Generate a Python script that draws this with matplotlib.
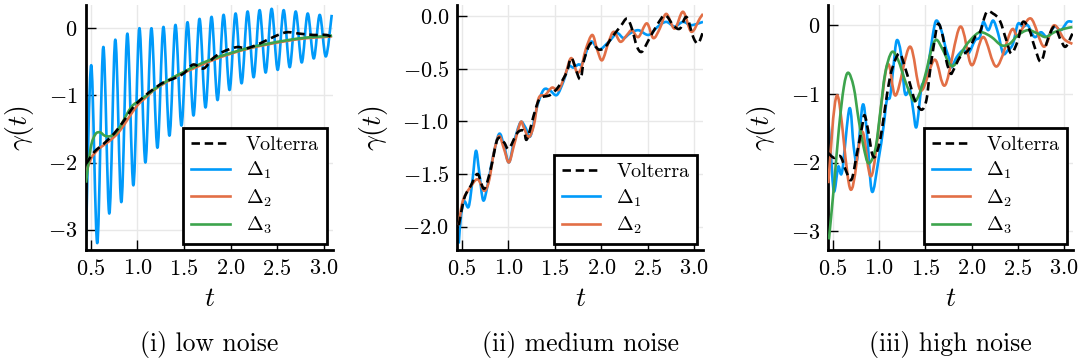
import numpy as np
import matplotlib
matplotlib.use("Agg")
import matplotlib.pyplot as plt
from matplotlib.path import Path
from matplotlib.patches import PathPatch
from matplotlib.lines import Line2D

# ============================================
# DATOS
# ============================================

# --- (i) low noise ---
t_v1 = [0.45, 0.54, 0.64, 0.75, 0.86, 0.96, 1.07, 1.18, 1.29, 1.39, 1.5, 1.6,
        1.71, 1.81, 1.92, 2.07, 2.17, 2.31, 2.46, 2.6, 2.74, 2.89, 3.03, 3.09]
y_v1 = [-2.02, -1.84, -1.72, -1.57, -1.37, -1.17, -1.02, -0.9, -0.8, -0.75, -0.67, -0.54,
        -0.6, -0.45, -0.35, -0.28, -0.3, -0.23, -0.13, -0.06, -0.08, -0.1, -0.1, -0.14]

t_d1_1 = [0.45, 0.506, 0.571, 0.635, 0.700, 0.764, 0.829, 0.893, 0.958, 1.022, 1.087,
          1.151, 1.216, 1.280, 1.345, 1.409, 1.474, 1.538, 1.603, 1.667, 1.732, 1.796,
          1.861, 1.925, 1.990, 2.054, 2.119, 2.183, 2.248, 2.312, 2.377, 2.441, 2.506,
          2.570, 2.635, 2.699, 2.764, 2.828, 2.893, 2.957, 3.022, 3.086]
y_d1_1 = [-3.1, -0.55, -3.2, -0.28, -2.76, -0.17, -2.59, -0.08, -2.34, 0.0, -2.0,
          0.0, -1.78, 0.02, -1.6, 0.05, -1.45, 0.09, -1.3, 0.14, -1.18, 0.17,
          -1.07, 0.2, -0.92, 0.22, -0.82, 0.25, -0.73, 0.27, -0.66, 0.29, -0.62,
          0.27, -0.58, 0.25, -0.51, 0.22, -0.45, 0.2, -0.42, 0.2]

t_d2_1 = [0.45, 0.5, 0.55, 0.6, 0.7, 0.8, 0.9, 1.0, 1.1, 1.2, 1.4, 1.6, 1.8, 2.0,
          2.2, 2.4, 2.6, 2.8, 3.0, 3.09]
y_d2_1 = [-2.15, -1.95, -1.85, -1.78, -1.68, -1.55, -1.35, -1.15, -1.02, -0.9, -0.73,
          -0.6, -0.48, -0.38, -0.3, -0.24, -0.19, -0.15, -0.13, -0.12]

t_d3_1 = [0.45, 0.5, 0.55, 0.6, 0.65, 0.7, 0.75, 0.8, 0.85, 0.9, 0.95, 1.0, 1.1, 1.2,
          1.3, 1.4, 1.5, 1.6, 1.8, 2.0, 2.2, 2.4, 2.6, 2.8, 3.0, 3.09]
y_d3_1 = [-2.3, -1.78, -1.58, -1.55, -1.6, -1.61, -1.58, -1.5, -1.38, -1.25, -1.15,
          -1.1, -1.0, -0.89, -0.8, -0.72, -0.65, -0.58, -0.46, -0.37, -0.29, -0.23,
          -0.18, -0.14, -0.12, -0.11]

# --- (ii) medium noise ---
t_v2 = [0.465, 0.525, 0.596, 0.668, 0.739, 0.81, 0.882, 0.952, 1.005, 1.095, 1.166,
        1.2, 1.29, 1.344, 1.45, 1.54, 1.63, 1.68, 1.77, 1.814, 1.886, 1.975, 2.046,
        2.117, 2.206, 2.277, 2.33, 2.384, 2.437, 2.509, 2.598, 2.687, 2.776, 2.847,
        2.918, 2.99, 3.043, 3.096]
y_v2 = [-1.985, -1.73, -1.61, -1.5, -1.64, -1.45, -1.17, -1.2, -1.26, -1.11, -1.09,
        -1.17, -0.89, -0.78, -0.75, -0.67, -0.53, -0.4, -0.6, -0.42, -0.26, -0.32, -0.29,
        -0.2, -0.1, -0.025, -0.12, -0.29, -0.34, -0.23, -0.09, 0.007, -0.09, -0.12,
        -0.01, -0.2, -0.26, -0.15]

t_d1_2 = [0.465, 0.49, 0.525, 0.572, 0.614, 0.65, 0.685, 0.728, 0.775, 0.828, 0.899,
          0.952, 1.005, 1.059, 1.13, 1.184, 1.237, 1.309, 1.38, 1.45, 1.522, 1.593,
          1.646, 1.7, 1.753, 1.796, 1.886, 1.975, 2.08, 2.17, 2.24, 2.31, 2.4, 2.51,
          2.61, 2.7, 2.79, 2.88, 2.97, 3.096]
y_d1_2 = [-2.16, -1.89, -1.76, -1.81, -1.55, -1.28, -1.48, -1.75, -1.61, -1.36, -1.12,
          -1.23, -1.39, -1.2, -1.01, -1.06, -1.14, -0.86, -0.7, -0.71, -0.75, -0.62,
          -0.48, -0.49, -0.46, -0.45, -0.245, -0.32, -0.245, -0.165, -0.21, -0.165,
          -0.135, -0.18, -0.1, -0.056, -0.1, -0.056, -0.087, -0.056]

t_d2_2 = [0.465, 0.507, 0.578, 0.668, 0.739, 0.792, 0.845, 0.899, 0.952, 1.005, 1.059,
          1.13, 1.166, 1.219, 1.273, 1.326, 1.397, 1.469, 1.54, 1.611, 1.675, 1.736,
          1.782, 1.832, 1.903, 1.956, 2.01, 2.08, 2.135, 2.206, 2.277, 2.33, 2.4, 2.49,
          2.56, 2.63, 2.7, 2.79, 2.88, 2.97, 3.06, 3.096]
y_d2_2 = [-1.985, -1.76, -1.64, -1.55, -1.66, -1.56, -1.29, -1.14, -1.26, -1.39, -1.23,
          -1.01, -1.06, -1.15, -1.04, -0.78, -0.75, -0.68, -0.7, -0.56, -0.4, -0.53,
          -0.5, -0.32, -0.18, -0.32, -0.42, -0.245, -0.15, -0.245, -0.18, -0.135, -0.2,
          -0.07, -0.21, -0.12, 0.02, -0.12, 0.04, -0.15, -0.025, 0.02]

# --- (iii) high noise ---
t_v3 = [0.45, 0.511, 0.582, 0.636, 0.7, 0.761, 0.815, 0.843, 0.886, 0.922, 0.958,
        1.011, 1.065, 1.118, 1.172, 1.225, 1.279, 1.333, 1.386, 1.458, 1.511, 1.547,
        1.583, 1.636, 1.69, 1.726, 1.772, 1.804, 1.876, 1.965, 2.037, 2.09, 2.161,
        2.233, 2.305, 2.376, 2.43, 2.5, 2.554, 2.626, 2.68, 2.75, 2.82, 2.894, 2.965,
        3.018, 3.09]
y_v3 = [-1.86, -1.93, -1.91, -2.1, -2.25, -1.86, -1.48, -1.31, -1.57, -1.86, -1.91,
        -1.67, -1.19, -0.75, -0.51, -0.41, -0.61, -0.85, -1.09, -1.23, -1.09, -0.7,
        -0.36, 0.02, -0.17, -0.51, -0.7, -0.65, -0.46, -0.36, -0.17, -0.1, 0.19,
        0.17, 0.07, -0.22, -0.41, -0.22, 0.05, -0.07, -0.31, -0.53, -0.22, -0.02,
        -0.22, -0.31, -0.12]

t_d1_3 = [0.45, 0.475, 0.511, 0.558, 0.6, 0.679, 0.725, 0.761, 0.822, 0.868, 0.922,
          0.993, 1.047, 1.083, 1.118, 1.154, 1.19, 1.236, 1.279, 1.333, 1.368, 1.404,
          1.458, 1.494, 1.529, 1.583, 1.619, 1.672, 1.726, 1.772, 1.786, 1.84, 1.911,
          1.965, 2.037, 2.09, 2.126, 2.18, 2.233, 2.287, 2.34, 2.394, 2.447, 2.5,
          2.554, 2.608, 2.68, 2.75, 2.82, 2.894, 2.965, 3.036, 3.09]
y_d1_3 = [-1.38, -1.81, -2.42, -2.06, -2.13, -1.21, -1.77, -1.96, -1.16, -1.57, -2.42,
          -1.96, -1.48, -1.09, -1.04, -0.61, -0.22, -0.41, -0.99, -0.94, -1.23, -1.48,
          -0.9, -0.85, -0.61, -0.12, 0.07, -0.07, -0.36, -0.53, -0.61, -0.46, -0.36,
          -0.41, -0.22, -0.17, 0.05, -0.07, 0.07, -0.12, -0.41, -0.36, -0.27, 0.02,
          -0.02, 0.0, -0.17, -0.1, -0.17, -0.02, -0.07, 0.05, 0.05]

t_d2_3 = [0.45, 0.547, 0.69, 0.815, 0.922, 1.083, 1.18, 1.333, 1.45, 1.6, 1.715,
          1.876, 2.0, 2.126, 2.27, 2.43, 2.5, 2.64, 2.78, 2.89, 3.0, 3.09]
y_d2_3 = [-2.3, -1.02, -2.39, -1.55, -2.18, -0.6, -1.02, -0.31, -0.95, -0.5, -0.87,
          -0.02, -0.58, -0.17, -0.6, -0.07, -0.15, 0.1, -0.31, 0.0, -0.2, -0.27]

t_d3_3 = [0.457, 0.511, 0.564, 0.618, 0.665, 0.725, 0.779, 0.832, 0.886, 0.958, 1.011,
          1.065, 1.137, 1.207, 1.279, 1.368, 1.422, 1.494, 1.565, 1.619, 1.69, 1.76,
          1.82, 1.93, 2.037, 2.107, 2.215, 2.322, 2.41, 2.5, 2.608, 2.715, 2.8, 2.894,
          3.0, 3.09]
y_d3_3 = [-3.12, -2.35, -1.52, -0.9, -0.69, -0.9, -1.38, -1.77, -2.01, -1.81, -1.28,
          -0.7, -0.39, -0.51, -0.8, -1.09, -1.04, -0.75, -0.36, -0.21, -0.36, -0.56,
          -0.57, -0.31, -0.145, -0.1, -0.17, -0.29, -0.27, -0.145, -0.07, -0.12, -0.17,
          -0.1, -0.05, -0.025]

captions = ["(i) low noise", "(ii) medium noise", "(iii) high noise"]
yticks_1 = [0, -1, -2, -3]
yticks_2 = [0.0, -0.5, -1.0, -1.5, -2.0]
xticks = [0.5, 1.0, 1.5, 2.0, 2.5, 3.0]

# ============================================
# ESTILO
# ============================================

plt.rcParams["font.family"] = "serif"
plt.rcParams["font.serif"] = ["cmr10"]
plt.rcParams["mathtext.fontset"] = "cm"
plt.rcParams["axes.formatter.use_mathtext"] = True

c_blue = "#009AFA"
c_red = "#E26F46"
c_green = "#3DA44D"
lw = 1.9
dash = (0, (3.2, 1.8))


# ============================================
# CURVA SUAVE (bezier por los puntos leídos)
# ============================================

def curva(ax, t, y, **kw):

    p = np.column_stack([t, y])
    ext = np.vstack([p[0], p, p[-1]])

    verts = [p[0]]
    codes = [Path.MOVETO]

    for i in range(len(p) - 1):
        p0, p1, p2, p3 = ext[i], ext[i + 1], ext[i + 2], ext[i + 3]
        verts += [p1 + (p2 - p0) / 6, p2 - (p3 - p1) / 6, p2]
        codes += [Path.CURVE4] * 3

    patch = PathPatch(Path(verts, codes), fill=False,
                      joinstyle="round", capstyle="butt", **kw)
    ax.add_patch(patch)


fig = plt.figure(figsize=(10.82, 3.63), dpi=100)

# posiciones de los ejes (fracción de figura)
pos = [
    [0.0795, 0.31, 0.2283, 0.675],
    [0.4227, 0.31, 0.2274, 0.675],
    [0.7655, 0.31, 0.2265, 0.675],
]

ylims = [(-3.31, 0.34), (-2.226, 0.1), (-3.28, 0.29)]

series = [
    [(t_d1_1, y_d1_1, c_blue, r"$\Delta_1$"),
     (t_d2_1, y_d2_1, c_red, r"$\Delta_2$"),
     (t_d3_1, y_d3_1, c_green, r"$\Delta_3$")],
    [(t_d1_2, y_d1_2, c_blue, r"$\Delta_1$"),
     (t_d2_2, y_d2_2, c_red, r"$\Delta_2$")],
    [(t_d1_3, y_d1_3, c_blue, r"$\Delta_1$"),
     (t_d2_3, y_d2_3, c_red, r"$\Delta_2$"),
     (t_d3_3, y_d3_3, c_green, r"$\Delta_3$")],
]
volterra = [(t_v1, y_v1), (t_v2, y_v2), (t_v3, y_v3)]
yticks_all = [yticks_1, yticks_2, yticks_1]

for i in range(3):

    ax = fig.add_axes(pos[i])

    handles = [Line2D([], [], color="black", lw=lw, ls=dash)]
    labels = ["Volterra"]

    for k, (tt, yy, cc, lab) in enumerate(series[i]):
        curva(ax, tt, yy, edgecolor=cc, lw=lw, zorder=2 + k)
        handles.append(Line2D([], [], color=cc, lw=lw))
        labels.append(lab)

    # volterra encima
    curva(ax, volterra[i][0], volterra[i][1], edgecolor="black", lw=lw,
          ls=dash, zorder=6)

    ax.set_xlim(0.45, 3.1)
    ax.set_ylim(*ylims[i])
    ax.set_xticks(xticks)
    ax.set_yticks(yticks_all[i])

    ax.grid(True, color="#e8e8e8", lw=1.0)
    ax.set_axisbelow(True)

    for s in ["top", "right"]:
        ax.spines[s].set_visible(False)
    for s in ["left", "bottom"]:
        ax.spines[s].set_linewidth(2.0)

    ax.tick_params(direction="in", length=7, width=1.0, labelsize=16, pad=6)

    ax.set_xlabel(r"$t$", fontsize=20, labelpad=5)
    ax.set_ylabel(r"$\gamma(t)$", fontsize=20, labelpad=9)

    leg = ax.legend(handles, labels, loc="lower right", fontsize=14.5, frameon=True,
                    fancybox=False, framealpha=1.0, edgecolor="black",
                    handlelength=1.9, borderaxespad=0.3, labelspacing=0.3,
                    borderpad=0.4)
    leg.get_frame().set_linewidth(2.0)
    leg.set_zorder(10)

    fig.text(pos[i][0] + pos[i][2] / 2, 0.05, captions[i],
             ha="center", va="center", fontsize=18.5)

fig.savefig("out.png", dpi=100)
